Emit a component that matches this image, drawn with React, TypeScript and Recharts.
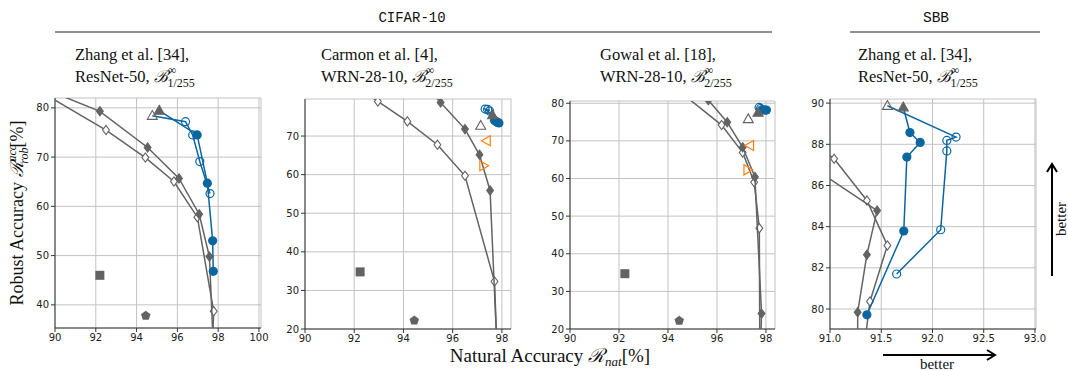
import React from 'react';
import { ScatterChart, Scatter, XAxis, YAxis, CartesianGrid } from 'recharts';

type P = { x: number; y: number };

const GRAY = '#636363';
const BLUE = '#0b66a0';
const ORANGE = '#ff7f0e';

// ---- CIFAR-10, Zhang et al. ----
const z1FilledDia: P[] = [
  { x: 88.5, y: 85.5 }, { x: 92.2, y: 79.3 }, { x: 94.54, y: 71.95 }, { x: 96.08, y: 65.66 },
  { x: 97.07, y: 58.4 }, { x: 97.57, y: 49.8 }, { x: 97.78, y: 30 },
];
const z1OpenDia: P[] = [
  { x: 88.8, y: 84.5 }, { x: 92.5, y: 75.5 }, { x: 94.43, y: 69.9 }, { x: 95.83, y: 65.05 },
  { x: 96.98, y: 57.8 }, { x: 97.78, y: 38.7 }, { x: 97.7, y: 30 },
];
const z1Square: P[] = [{ x: 92.2, y: 46.0 }];
const z1Pent: P[] = [{ x: 94.45, y: 37.8 }];
const z1TriFilled: P[] = [{ x: 95.11, y: 79.45 }];
const z1TriOpen: P[] = [{ x: 94.77, y: 78.4 }];
const z1BlueFilled: P[] = [{ x: 96.97, y: 74.5 }, { x: 97.47, y: 64.7 }, { x: 97.73, y: 53.0 }, { x: 97.76, y: 46.8 }];
const z1BlueOpen: P[] = [{ x: 96.4, y: 77.2 }, { x: 96.75, y: 74.5 }, { x: 97.1, y: 69.1 }, { x: 97.6, y: 62.6 }];

// ---- CIFAR-10, Carmon et al. ----
const c2OpenDia: P[] = [
  { x: 92.5, y: 81.0 }, { x: 92.96, y: 78.96 }, { x: 94.16, y: 73.8 }, { x: 95.38, y: 67.75 },
  { x: 96.5, y: 59.7 }, { x: 97.7, y: 32.3 }, { x: 97.8, y: 15 },
];
const c2FilledDia: P[] = [
  { x: 95.1, y: 81.5 }, { x: 95.51, y: 78.7 }, { x: 96.5, y: 71.8 }, { x: 97.09, y: 65.15 },
  { x: 97.52, y: 55.9 }, { x: 97.8, y: 15 },
];
const c2Square: P[] = [{ x: 92.24, y: 34.8 }];
const c2Pent: P[] = [{ x: 94.44, y: 22.2 }];
const c2TriOpen: P[] = [{ x: 97.14, y: 72.7 }];
const c2Left: P[] = [{ x: 97.38, y: 68.8 }];
const c2Right: P[] = [{ x: 97.25, y: 62.3 }];
const c2TriFilled: P[] = [{ x: 97.62, y: 75.4 }];
const c2BlueOpen: P[] = [{ x: 97.32, y: 77.0 }, { x: 97.42, y: 76.9 }, { x: 97.5, y: 76.5 }];
const c2BlueFilled: P[] = [{ x: 97.7, y: 74.0 }, { x: 97.8, y: 73.6 }, { x: 97.88, y: 73.4 }];

// ---- CIFAR-10, Gowal et al. ----
const g3FilledDia: P[] = [
  { x: 94.5, y: 83.5 }, { x: 95.65, y: 80.8 }, { x: 96.42, y: 74.96 }, { x: 97.05, y: 68.3 },
  { x: 97.55, y: 60.4 }, { x: 97.82, y: 24.1 }, { x: 97.78, y: 15 },
];
const g3OpenDia: P[] = [
  { x: 94.5, y: 83.0 }, { x: 96.19, y: 74.2 }, { x: 97.05, y: 66.9 }, { x: 97.52, y: 59.0 },
  { x: 97.73, y: 46.8 }, { x: 97.75, y: 15 },
];
const g3Square: P[] = [{ x: 92.24, y: 34.7 }];
const g3Pent: P[] = [{ x: 94.46, y: 22.2 }];
const g3TriOpen: P[] = [{ x: 97.28, y: 75.8 }];
const g3Left: P[] = [{ x: 97.35, y: 68.75 }];
const g3Right: P[] = [{ x: 97.25, y: 62.3 }];
const g3TriFilled: P[] = [{ x: 97.68, y: 77.5 }];
const g3BlueOpen: P[] = [{ x: 97.72, y: 78.9 }, { x: 97.78, y: 78.6 }];
const g3BlueFilled: P[] = [{ x: 97.85, y: 78.3 }, { x: 97.95, y: 78.2 }, { x: 98.02, y: 78.2 }];

// ---- SBB, Zhang et al. ----
const s4OpenDia: P[] = [
  { x: 90.8, y: 88.2 }, { x: 91.04, y: 87.3 }, { x: 91.36, y: 85.27 }, { x: 91.56, y: 83.09 },
  { x: 91.39, y: 80.37 }, { x: 91.33, y: 78.0 },
];
const s4FilledDia: P[] = [
  { x: 90.7, y: 87.3 }, { x: 91.46, y: 84.78 }, { x: 91.36, y: 82.64 }, { x: 91.27, y: 79.84 }, { x: 91.27, y: 78.0 },
];
const s4TriOpen: P[] = [{ x: 91.56, y: 89.87 }];
const s4TriFilled: P[] = [{ x: 91.715, y: 89.8 }];
const s4BlueFilled: P[] = [
  { x: 91.78, y: 88.57 }, { x: 91.88, y: 88.09 }, { x: 91.75, y: 87.38 }, { x: 91.72, y: 83.79 }, { x: 91.36, y: 79.72 },
];
const s4BlueOpen: P[] = [
  { x: 92.23, y: 88.35 }, { x: 92.14, y: 88.19 }, { x: 92.14, y: 87.68 }, { x: 92.08, y: 83.85 }, { x: 91.65, y: 81.7 },
];

const ticksX1 = [90, 92, 94, 96, 98, 100];
const ticksX2 = [90, 92, 94, 96, 98];
const ticksX4 = [91.0, 91.5, 92.0, 92.5, 93.0];
const ticksY1 = [40, 50, 60, 70, 80];
const ticksY2 = [20, 30, 40, 50, 60, 70];
const ticksY3 = [20, 30, 40, 50, 60, 70, 80];
const ticksY4 = [80, 82, 84, 86, 88, 90];

type Layer = { data: P[]; kind: string; color: string; line?: boolean };

const mark = (kind: string, color: string) => (props: any) => {
  const { cx, cy } = props;
  if (cx == null || cy == null || kind === 'none') return <g />;
  switch (kind) {
    case 'dot':
      return <circle cx={cx} cy={cy} r={4.6} fill={color} />;
    case 'ring':
      return <circle cx={cx} cy={cy} r={4} fill="none" stroke={color} strokeWidth={1.2} />;
    case 'dia':
    case 'diaOpen':
      return (
        <path
          d={`M${cx},${cy - 4.6}L${cx + 3.4},${cy}L${cx},${cy + 4.6}L${cx - 3.4},${cy}Z`}
          fill={kind === 'dia' ? color : '#fff'}
          stroke={color}
          strokeWidth={1.1}
        />
      );
    case 'tri':
    case 'triOpen':
      return (
        <path
          d={`M${cx},${cy - 5.2}L${cx + 5},${cy + 3.6}L${cx - 5},${cy + 3.6}Z`}
          fill={kind === 'tri' ? color : 'none'}
          stroke={color}
          strokeWidth={1.1}
        />
      );
    case 'left':
      return <path d={`M${cx - 5.2},${cy}L${cx + 3.6},${cy - 5}L${cx + 3.6},${cy + 5}Z`} fill="none" stroke={color} strokeWidth={1.2} />;
    case 'right':
      return <path d={`M${cx + 5.2},${cy}L${cx - 3.6},${cy - 5}L${cx - 3.6},${cy + 5}Z`} fill="none" stroke={color} strokeWidth={1.2} />;
    case 'sq':
      return <rect x={cx - 4.5} y={cy - 4.5} width={9} height={9} fill={color} />;
    case 'pent': {
      const pts = [0, 1, 2, 3, 4]
        .map((i) => {
          const a = -Math.PI / 2 + (i * 2 * Math.PI) / 5;
          return `${cx + 5 * Math.cos(a)},${cy + 5 * Math.sin(a)}`;
        })
        .join(' ');
      return <polygon points={pts} fill={color} />;
    }
    default:
      return <g />;
  }
};

const standardLayers = (
  filledDia: P[], openDia: P[], extra: Layer[], triFilled: P[], triOpen: P[] | null,
  blueFilled: P[], blueOpen: P[], openStart: P[],
): Layer[] => [
  { data: openDia, kind: 'diaOpen', color: GRAY, line: true },
  { data: filledDia, kind: 'dia', color: GRAY, line: true },
  ...extra,
  { data: [...openStart, ...blueOpen], kind: 'none', color: BLUE, line: true },
  { data: [...triFilled, ...blueFilled], kind: 'none', color: BLUE, line: true },
  { data: blueOpen, kind: 'ring', color: BLUE },
  { data: blueFilled, kind: 'dot', color: BLUE },
  { data: triFilled, kind: 'tri', color: GRAY },
  ...(triOpen ? [{ data: triOpen, kind: 'triOpen', color: GRAY }] : []),
];

type PanelCfg = {
  left: number; top: number; w: number; h: number;
  xDomain: [number, number]; yDomain: [number, number];
  xTicks: number[]; yTicks: number[]; fmt?: (v: number) => string;
  layers: Layer[];
};

const panels: PanelCfg[] = [
  {
    left: 55, top: 98, w: 206, h: 230, xDomain: [90, 100.1], yDomain: [35.3, 82],
    xTicks: ticksX1, yTicks: ticksY1,
    layers: standardLayers(
      z1FilledDia, z1OpenDia,
      [{ data: z1Square, kind: 'sq', color: GRAY }, { data: z1Pent, kind: 'pent', color: GRAY }],
      z1TriFilled, z1TriOpen, z1BlueFilled, z1BlueOpen, z1TriOpen,
    ),
  },
  {
    left: 305, top: 99, w: 206, h: 230, xDomain: [90, 98.37], yDomain: [20, 79.6],
    xTicks: ticksX2, yTicks: ticksY2,
    layers: standardLayers(
      c2FilledDia, c2OpenDia,
      [
        { data: c2Square, kind: 'sq', color: GRAY }, { data: c2Pent, kind: 'pent', color: GRAY },
        { data: c2TriOpen, kind: 'triOpen', color: GRAY },
        { data: c2Left, kind: 'left', color: ORANGE }, { data: c2Right, kind: 'right', color: ORANGE },
      ],
      c2TriFilled, null, c2BlueFilled, c2BlueOpen, c2TriFilled,
    ),
  },
  {
    left: 570, top: 101, w: 205, h: 228, xDomain: [90, 98.37], yDomain: [20, 80.6],
    xTicks: ticksX2, yTicks: ticksY3,
    layers: standardLayers(
      g3FilledDia, g3OpenDia,
      [
        { data: g3Square, kind: 'sq', color: GRAY }, { data: g3Pent, kind: 'pent', color: GRAY },
        { data: g3TriOpen, kind: 'triOpen', color: GRAY },
        { data: g3Left, kind: 'left', color: ORANGE }, { data: g3Right, kind: 'right', color: ORANGE },
      ],
      g3TriFilled, null, g3BlueFilled, g3BlueOpen, g3TriFilled,
    ),
  },
  {
    left: 830, top: 99, w: 206, h: 230, xDomain: [91, 93.01], yDomain: [79.03, 90.2],
    xTicks: ticksX4, yTicks: ticksY4, fmt: (v: number) => v.toFixed(1),
    layers: standardLayers(
      s4FilledDia, s4OpenDia, [], s4TriFilled, s4TriOpen, s4BlueFilled, s4BlueOpen, s4TriOpen,
    ),
  },
];

const tickStyle = { fontSize: 10, fontFamily: 'DejaVu Sans', fill: '#222' };
const AXIS = '#333';

const Panel = ({ cfg }: { cfg: PanelCfg }) => (
  <div style={{ position: 'absolute', left: cfg.left - 40, top: cfg.top - 10 }}>
    <ScatterChart width={cfg.w + 50} height={cfg.h + 40} margin={{ top: 10, right: 10, bottom: 0, left: 0 }}>
      <CartesianGrid stroke="#c2c2c2" strokeWidth={1} />
      <XAxis
        type="number" dataKey="x" domain={cfg.xDomain} ticks={cfg.xTicks} allowDataOverflow
        height={30} tick={tickStyle} tickSize={4} tickFormatter={cfg.fmt}
        axisLine={{ stroke: AXIS }} tickLine={{ stroke: AXIS }} interval={0}
      />
      <YAxis
        type="number" dataKey="y" domain={cfg.yDomain} ticks={cfg.yTicks} allowDataOverflow
        width={40} tick={tickStyle} tickSize={4}
        axisLine={{ stroke: AXIS }} tickLine={{ stroke: AXIS }} interval={0}
      />
      <XAxis xAxisId="top" orientation="top" type="number" domain={cfg.xDomain} allowDataOverflow
        height={0} tick={false} tickLine={false} axisLine={{ stroke: AXIS }} />
      <YAxis yAxisId="right" orientation="right" type="number" domain={cfg.yDomain} allowDataOverflow
        width={0} tick={false} tickLine={false} axisLine={{ stroke: AXIS }} />
      {cfg.layers.map((l, i) => (
        <Scatter
          key={i}
          data={l.data}
          isAnimationActive={false}
          line={l.line ? { stroke: l.color, strokeWidth: 1.5 } : false}
          lineType="joint"
          shape={mark(l.kind, l.color)}
        />
      ))}
    </ScatterChart>
  </div>
);

const Subtitle = ({ x, l1, l2, eps }: { x: number; l1: string; l2: string; eps: string }) => (
  <text x={x} y={60} fontSize={16.5}>
    <tspan x={x} y={60}>{l1}</tspan>
    <tspan x={x} y={82}>{l2}</tspan>
    <tspan fontStyle="italic">ℬ</tspan>
    <tspan dy={-8} fontSize={12}>∞</tspan>
    <tspan dx={-9} dy={13} fontSize={12}>{eps}</tspan>
  </text>
);

const subtitles = [
  { x: 75, l1: 'Zhang et al. [34],', l2: 'ResNet-50, ', eps: '1/255' },
  { x: 321, l1: 'Carmon et al. [4],', l2: 'WRN-28-10, ', eps: '2/255' },
  { x: 600, l1: 'Gowal et al. [18],', l2: 'WRN-28-10, ', eps: '2/255' },
  { x: 858, l1: 'Zhang et al. [34],', l2: 'ResNet-50, ', eps: '1/255' },
];

export default function App() {
  return (
    <div style={{ position: 'absolute', left: 0, top: 0, width: 1068, height: 371, background: '#fff', overflow: 'hidden' }}>
      {panels.map((p, i) => (
        <Panel key={i} cfg={p} />
      ))}
      <svg width={1068} height={371} style={{ position: 'absolute', left: 0, top: 0, pointerEvents: 'none' }}
        fontFamily="'Liberation Serif', serif" fill="#111">
        <text x={412} y={22} textAnchor="middle" fontFamily="'Liberation Mono', monospace" fontSize={14}>CIFAR-10</text>
        <line x1={55} x2={772} y1={32} y2={32} stroke="#222" strokeWidth={1.2} />
        <text x={936} y={22} textAnchor="middle" fontFamily="'Liberation Mono', monospace" fontSize={14.5}>SBB</text>
        <line x1={850} x2={1040} y1={32} y2={32} stroke="#222" strokeWidth={1.2} />
        {subtitles.map((s, i) => (
          <Subtitle key={i} {...s} />
        ))}
        <text transform="translate(23,213) rotate(-90)" textAnchor="middle" fontSize={18}>
          Robust Accuracy <tspan fontStyle="italic">ℛ</tspan>
          <tspan dy={-7} fontSize={12} fontStyle="italic">acc</tspan>
          <tspan dx={-19} dy={12} fontSize={12} fontStyle="italic">rob</tspan>
          <tspan dy={-5}>[%]</tspan>
        </text>
        <text x={550} y={362} textAnchor="middle" fontSize={19}>
          Natural Accuracy <tspan fontStyle="italic">ℛ</tspan>
          <tspan dy={4} fontSize={13} fontStyle="italic">nat</tspan>
          <tspan dy={-4}>[%]</tspan>
        </text>
        <line x1={883} x2={995} y1={355} y2={355} stroke="#000" strokeWidth={2} />
        <polyline points="987,350 995,355 987,360" fill="none" stroke="#000" strokeWidth={2} />
        <text x={937} y={369} textAnchor="middle" fontSize={15}>better</text>
        <line x1={1052} x2={1052} y1={276} y2={164} stroke="#000" strokeWidth={2} />
        <polyline points="1047,172 1052,164 1057,172" fill="none" stroke="#000" strokeWidth={2} />
        <text transform="translate(1066,219) rotate(-90)" textAnchor="middle" fontSize={15}>better</text>
      </svg>
    </div>
  );
}
